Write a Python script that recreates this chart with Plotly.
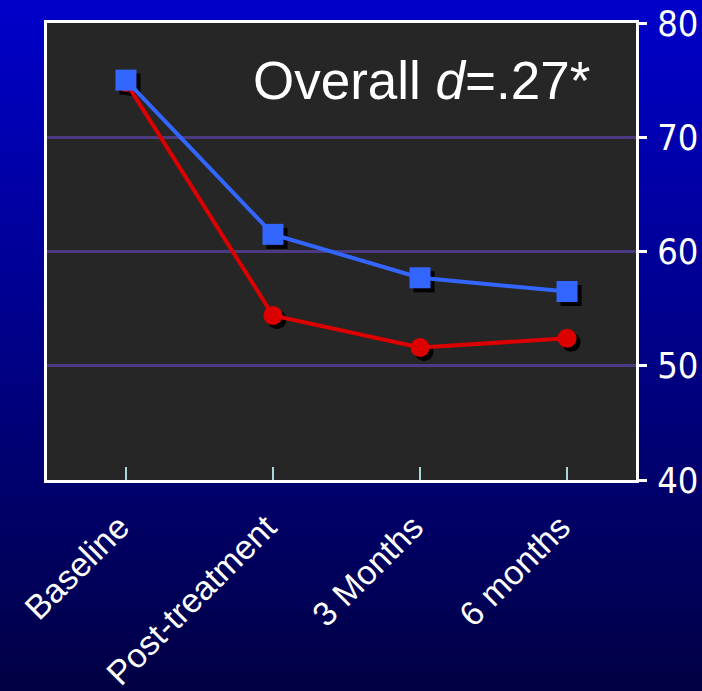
import plotly.graph_objects as go

categories = ["Baseline", "Post-treatment", "3 Months", "6 months"]
blue_values = [75.0, 61.5, 57.7, 56.5]
red_values = [74.8, 54.4, 51.6, 52.4]
y_tick_values = [40, 50, 60, 70, 80]
annotation_text = "Overall <i>d</i>=.27*"

W, H = 702, 691
L, R, T, B = 47, 66, 23, 211
pw, ph = W - L - R, H - T - B
xr = [-0.537, 3.469]
yr = [40, 80]
sh_px = 4
ux = (xr[1] - xr[0]) / pw
uy = (yr[1] - yr[0]) / ph
xr_sh = [xr[0] - sh_px * ux, xr[1] - sh_px * ux]
yr_sh = [yr[0] + sh_px * uy, yr[1] + sh_px * uy]

BLUE = "#3366FF"
RED = "#DD0000"

fig = go.Figure()

# base axes carrier (draws nothing; keeps the visible axes alive)
fig.add_trace(go.Scatter(x=categories, y=blue_values, mode="none", hoverinfo="skip", showlegend=False))
# shadows
fig.add_trace(go.Scatter(x=categories, y=blue_values, mode="markers", xaxis="x2", yaxis="y2",
                         marker=dict(symbol="square", size=21, color="black"), showlegend=False))
fig.add_trace(go.Scatter(x=categories, y=red_values, mode="markers", xaxis="x2", yaxis="y2",
                         marker=dict(symbol="circle", size=19, color="black"), showlegend=False))
# main series
fig.add_trace(go.Scatter(x=categories, y=red_values, mode="lines+markers", xaxis="x3", yaxis="y3",
                         line=dict(color=RED, width=4),
                         marker=dict(symbol="circle", size=19, color=RED), showlegend=False))
fig.add_trace(go.Scatter(x=categories, y=blue_values, mode="lines+markers", xaxis="x3", yaxis="y3",
                         line=dict(color=BLUE, width=4),
                         marker=dict(symbol="square", size=21, color=BLUE), showlegend=False))

# background gradient strips
shapes = []
n = 140
top_c, bot_c = (0, 0, 202), (0, 0, 68)
for i in range(n):
    p0 = i * H / n
    p1 = (i + 1) * H / n + 1
    t = (i + 0.5) / n
    c = tuple(round(top_c[k] + (bot_c[k] - top_c[k]) * t) for k in range(3))
    shapes.append(dict(type="rect", xref="paper", yref="paper", layer="below",
                       x0=-L / pw - 0.05, x1=1 + R / pw + 0.05,
                       y0=(H - B - p1) / ph, y1=(H - B - p0) / ph,
                       fillcolor="rgb(%d,%d,%d)" % c, line=dict(width=0)))
shapes.append(dict(type="rect", xref="paper", yref="paper", layer="below",
                   x0=0, x1=1, y0=0, y1=1, fillcolor="#262626", line=dict(width=0)))

fig.update_layout(
    width=W, height=H,
    margin=dict(l=L, r=R, t=T, b=B, pad=0, autoexpand=False),
    paper_bgcolor="rgb(0,0,130)",
    plot_bgcolor="rgba(0,0,0,0)",
    shapes=shapes,
    showlegend=False,
    xaxis=dict(type="category", range=xr, showgrid=False, zeroline=False, automargin=False,
               tickvals=categories, ticktext=[c + "\u00a0" for c in categories],
               showline=True, linecolor="white", linewidth=3, mirror=True,
               ticks="inside", ticklen=13, tickwidth=2, tickcolor="#a8d8d8",
               tickangle=-45, ticklabelstandoff=4,
               tickfont=dict(family="Liberation Sans, Arial, sans-serif", size=34, color="white")),
    yaxis=dict(range=yr, side="right", tickvals=y_tick_values, showgrid=True, automargin=False,
               gridcolor="#4b3a80", gridwidth=2.5, zeroline=False,
               showline=True, linecolor="white", linewidth=3, mirror=True,
               ticks="outside", ticklen=8, tickwidth=3, tickcolor="white",
               ticklabelstandoff=3,
               tickfont=dict(family="Liberation Sans Narrow, Arial Narrow, DejaVu Sans Condensed, sans-serif",
                             size=36, color="white")),
    xaxis2=dict(type="category", range=xr_sh, overlaying="x", anchor="y2", visible=False),
    yaxis2=dict(range=yr_sh, overlaying="y", anchor="x2", visible=False),
    xaxis3=dict(type="category", range=xr, overlaying="x", anchor="y3", visible=False),
    yaxis3=dict(range=yr, overlaying="y", anchor="x3", visible=False),
    annotations=[dict(text=annotation_text, xref="paper", yref="paper",
                      x=(592 - L) / pw, y=(H - B - 81) / ph, xanchor="right", yanchor="middle",
                      showarrow=False,
                      font=dict(family="Liberation Sans, Arial, sans-serif", size=53, color="white"))],
)

fig.write_html("out.html", config={"displayModeBar": False},
               post_script="document.body.style.margin='0';document.body.style.overflow='hidden';"
                           "document.documentElement.style.overflow='hidden';")
